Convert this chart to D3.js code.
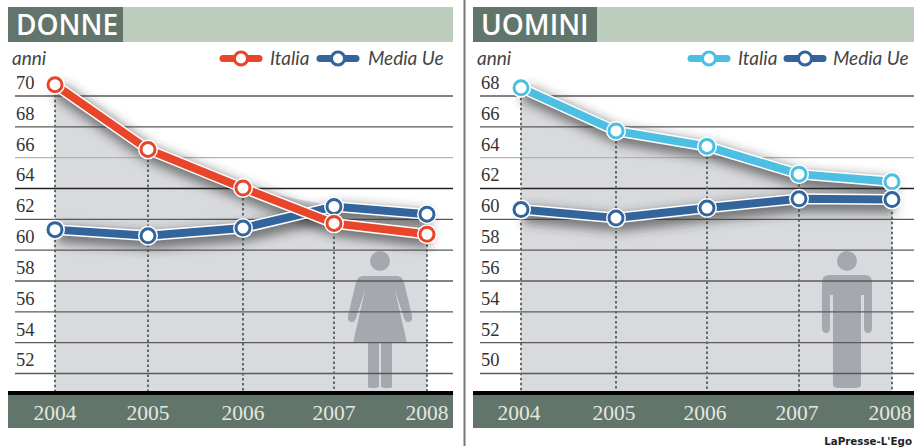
<!DOCTYPE html>
<html>
<head>
<meta charset="utf-8">
<script src="https://cdn.jsdelivr.net/npm/d3@7"></script>
<style>
    html, body { margin: 0; padding: 0; background: #fff; }
    svg { display: block; }
</style>
</head>
<body>
<svg id="chart" width="914" height="448"></svg>
<script>
    // Data
    const years = [2004, 2005, 2006, 2007, 2008];
    const donneTicks = [70, 68, 66, 64, 62, 60, 58, 56, 54, 52];
    const uominiTicks = [68, 66, 64, 62, 60, 58, 56, 54, 52, 50];
    const donneItalia = [70.7, 66.5, 64.0, 61.7, 61.0];
    const donneUe = [61.3, 60.9, 61.4, 62.8, 62.3];
    const uominiItalia = [68.5, 65.7, 64.7, 62.9, 62.4];
    const uominiUe = [60.6, 60.05, 60.7, 61.3, 61.25];

    // Display settings
    const RED = "#e8452a", CYAN = "#4dbfe2", BLUE = "#33659c";
    const DARK = "#62756a", LIGHT = "#bccdbd", FILL = "#d9dadd", ICON = "#a6a8b0";
    const SERIF = "'Liberation Serif', serif", SANS = "'Open Sans', sans-serif", ITALIC = "Lato, sans-serif";

    const svg = d3.select("#chart");

    // Shadow under the lines
    const blur = svg.append("defs").append("filter")
        .attr("id", "shadow")
        .attr("filterUnits", "userSpaceOnUse")
        .attr("x", 0).attr("y", 0).attr("width", 914).attr("height", 448);
    blur.append("feGaussianBlur").attr("stdDeviation", 5.5);

    // Separator
    svg.append("line")
        .attr("x1", 464.5).attr("x2", 464.5)
        .attr("y1", 0).attr("y2", 446)
        .attr("stroke", "#777").attr("stroke-width", 2);

    function drawPanel(p) {
        // the years are not quite evenly spaced in the picture
        const x = d3.scaleLinear().domain(years).range(p.xRange);
        const y = d3.scaleLinear().domain([p.ticks[0], p.ticks[p.ticks.length - 1]]).range([95.5, 373]);
        const bottom = 392;
        const g = svg.append("g");

        // Header
        g.append("rect").attr("x", p.left).attr("y", 7).attr("width", p.right - p.left).attr("height", 35).attr("fill", LIGHT);
        g.append("rect").attr("x", p.left).attr("y", 7).attr("width", p.titleWidth).attr("height", 35).attr("fill", DARK);
        g.append("text")
            .attr("x", p.left + 8).attr("y", 35)
            .attr("font-family", SANS).attr("font-size", 28).attr("font-weight", 600)
            .attr("fill", "#fff")
            .text(p.title);

        g.append("text")
            .attr("x", p.left + 4).attr("y", 65)
            .attr("font-family", ITALIC).attr("font-style", "italic").attr("font-size", 19)
            .attr("fill", "#444")
            .text("anni");

        // Grey area under the highest series
        const area = d3.area()
            .x((d, i) => x(years[i]))
            .y0(bottom)
            .y1(d => y(d));
        g.append("path")
            .datum(p.main.map((v, i) => Math.max(v, p.ue[i])))
            .attr("d", area)
            .attr("fill", FILL);

        // Figure
        const icon = g.append("g").attr("transform", `translate(${p.iconX},0)`).attr("fill", ICON);
        icon.append("circle").attr("cx", 0).attr("cy", 261).attr("r", 10);
        icon.append("path").attr("d", p.icon);

        // Grid and tick labels
        const axis = g.append("g")
            .attr("transform", `translate(${p.right},0)`)
            .call(d3.axisLeft(y).tickValues(p.ticks).tickSize(p.right - p.gridLeft).tickPadding(0));
        axis.select(".domain").remove();
        axis.selectAll(".tick line")
            .attr("stroke", d => d === p.ticks[3] ? "#222" : d === p.ticks[2] ? "#b5b5b5" : "#5a5a5a")
            .attr("stroke-width", 1.4);
        axis.selectAll(".tick text")
            .attr("x", p.gridLeft - p.right + 1)
            .attr("y", -13)
            .attr("dy", "0.32em")
            .attr("text-anchor", "start")
            .attr("font-family", SERIF)
            .attr("font-size", 18.5)
            .attr("fill", "#333");

        // Drop lines
        g.append("g").selectAll("line")
            .data(years)
            .join("line")
            .attr("x1", d => x(d)).attr("x2", d => x(d))
            .attr("y1", (d, i) => y(Math.max(p.main[i], p.ue[i])))
            .attr("y2", bottom)
            .attr("stroke", "#5c6d66")
            .attr("stroke-width", 2)
            .attr("stroke-dasharray", "2.5,2.5");

        // Bottom band
        g.append("rect").attr("x", p.left).attr("y", 394).attr("width", p.right - p.left).attr("height", 34).attr("fill", DARK);
        g.append("rect").attr("x", p.left).attr("y", 391).attr("width", p.right - p.left).attr("height", 4).attr("fill", "#000");
        g.append("g").selectAll("text")
            .data(years)
            .join("text")
            .attr("x", d => x(d) + p.labelShift)
            .attr("y", 420)
            .attr("text-anchor", "middle")
            .attr("font-family", SERIF)
            .attr("font-size", 21.5)
            .attr("fill", "#e3e8e0")
            .text(d => d);

        // Series
        const line = d3.line().x((d, i) => x(years[i])).y(d => y(d));
        const series = [{values: p.main, color: p.mainColor}, {values: p.ue, color: BLUE}];
        const order = p.ueOnTop ? series : [series[1], series[0]];

        order.forEach(s => {
            g.append("path").datum(s.values)
                .attr("d", line)
                .attr("transform", "translate(3,5)")
                .attr("fill", "none").attr("stroke", "#333").attr("stroke-width", 16)
                .attr("stroke-opacity", 0.62)
                .attr("filter", "url(#shadow)");
        });
        order.forEach(s => {
            g.append("path").datum(s.values)
                .attr("d", line)
                .attr("fill", "none").attr("stroke", "#fff").attr("stroke-width", 11);
            g.append("path").datum(s.values)
                .attr("d", line)
                .attr("fill", "none").attr("stroke", s.color).attr("stroke-width", 8);
            g.append("g").selectAll("circle.halo")
                .data(s.values)
                .join("circle")
                .attr("class", "halo")
                .attr("cx", (d, i) => x(years[i]))
                .attr("cy", d => y(d))
                .attr("r", 10)
                .attr("fill", "#fff");
            g.append("g").selectAll("circle.dot")
                .data(s.values)
                .join("circle")
                .attr("class", "dot")
                .attr("cx", (d, i) => x(years[i]))
                .attr("cy", d => y(d))
                .attr("r", 7)
                .attr("fill", "#fff")
                .attr("stroke", s.color)
                .attr("stroke-width", 3);
        });

        // Legend
        const legend = [
            {label: "Italia", color: p.mainColor, lineX: p.legendX[0], textX: p.legendX[1]},
            {label: "Media Ue", color: BLUE, lineX: p.legendX[2], textX: p.legendX[3]}
        ];
        legend.forEach(l => {
            g.append("line")
                .attr("x1", l.lineX - 18).attr("x2", l.lineX + 18)
                .attr("y1", 58.5).attr("y2", 58.5)
                .attr("stroke", l.color).attr("stroke-width", 7).attr("stroke-linecap", "round");
            g.append("circle")
                .attr("cx", l.lineX).attr("cy", 58.5).attr("r", 6.5)
                .attr("fill", "#fff").attr("stroke", l.color).attr("stroke-width", 3);
            g.append("text")
                .attr("x", l.textX).attr("y", 65)
                .attr("font-family", ITALIC).attr("font-style", "italic").attr("font-size", 19)
                .attr("fill", "#444")
                .text(l.label);
        });
    }

    drawPanel({
        title: "DONNE", left: 8, right: 453, gridLeft: 15, titleWidth: 115,
        xRange: [55, 148, 243, 334, 427], labelShift: 0,
        ticks: donneTicks, main: donneItalia, ue: donneUe, mainColor: RED, ueOnTop: false,
        legendX: [241, 270, 338, 368], iconX: 380,
        icon: "M-17,276 H17 Q22,276 24,282 L32,316 Q33,322 28,322 Q25,322 24,318 L15,290 L27,343 H4 V387 H1 V343 H-1 V387 H-4 V343 H-27 L-15,290 L-24,318 Q-25,322 -28,322 Q-33,322 -32,316 L-24,282 Q-22,276 -17,276 Z M-12,343 H-2 V387 Q-2,388 -7,388 Q-12,388 -12,387 Z M2,343 H12 V387 Q12,388 7,388 Q2,388 2,387 Z"
    });

    drawPanel({
        title: "UOMINI", left: 473, right: 914, gridLeft: 480, titleWidth: 124,
        xRange: [521, 616, 707, 799, 892], labelShift: -2,
        ticks: uominiTicks, main: uominiItalia, ue: uominiUe, mainColor: CYAN, ueOnTop: true,
        legendX: [709, 738, 805, 833], iconX: 847,
        icon: "M-18,275 H18 Q25,275 25,283 V328 Q25,333 21,333 Q17,333 17,328 V295 H14 V385 Q14,388 8,388 H-8 Q-14,388 -14,385 V295 H-17 V328 Q-17,333 -21,333 Q-25,333 -25,328 V283 Q-25,275 -18,275 Z"
    });

    // Credit
    svg.append("text")
        .attr("x", 912).attr("y", 445)
        .attr("text-anchor", "end")
        .attr("font-family", "'DejaVu Sans', sans-serif")
        .attr("font-weight", "bold")
        .attr("font-size", 10.3)
        .attr("fill", "#222")
        .text("LaPresse-L'Ego");
</script>
</body>
</html>
